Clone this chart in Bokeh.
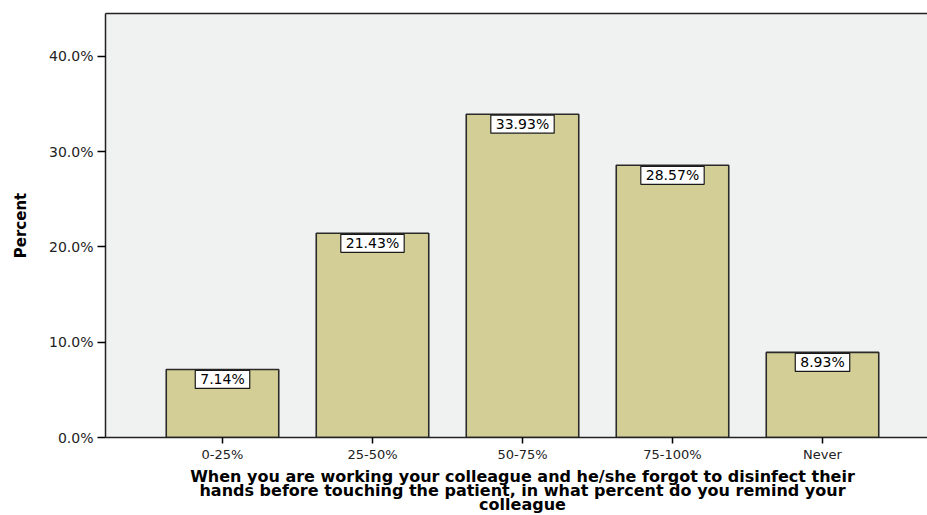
from bokeh.plotting import figure
from bokeh.layouts import column
from bokeh.models import ColumnDataSource, FixedTicker, LinearAxis, Range1d
from bokeh.core.properties import value
from bokeh.embed import file_html
from bokeh.resources import INLINE

# Response categories and share of respondents (%)
categories = ["0-25%", "25-50%", "50-75%", "75-100%", "Never"]
percents = [7.14, 21.43, 33.93, 28.57, 8.93]
y_ticks = [0, 10, 20, 30, 40]

x_title_lines = [
    "When you are working your colleague and he/she forgot to disinfect their",
    "hands before touching the patient, in what percent do you remind your",
    "colleague",
]

positions = list(range(len(categories)))
labels = [f"{v:.2f}%" for v in percents]

source = ColumnDataSource(data=dict(x=positions, top=percents, label=labels))

p = figure(width=927, height=464, output_backend="svg", toolbar_location=None,
           x_range=Range1d(-0.78, 4.70), y_range=Range1d(0, 44.5),
           min_border_left=105, min_border_right=0, min_border_top=13,
           min_border_bottom=27)

p.background_fill_color = "#f0f1f1"
p.border_fill_color = "white"
p.outline_line_color = None
p.grid.visible = False

p.vbar(x="x", top="top", width=0.75, bottom=0, source=source,
       fill_color="#d3ce96", line_color="#2a2a2a", line_width=1.6)

p.text(x="x", y="top", text="label", source=source,
       text_align="center", text_baseline="top", y_offset=1,
       text_font=value("DejaVu Sans"), text_font_size="14px", text_color="black",
       background_fill_color="white", border_line_color="#1a1a1a",
       border_line_width=1.2, padding=dict(left=5, right=5, top=1, bottom=1))

# y axis
yax = p.yaxis[0]
yax.ticker = FixedTicker(ticks=y_ticks)
yax.major_label_overrides = {t: f"{t:.1f}%" for t in y_ticks}
yax.axis_label = "Percent"
yax.axis_label_text_font = "DejaVu Sans"
yax.axis_label_text_font_style = "bold"
yax.axis_label_text_font_size = "15px"
yax.axis_label_text_color = "black"
yax.axis_label_standoff = 16
yax.major_label_text_font = "DejaVu Sans"
yax.major_label_text_font_size = "14px"
yax.major_label_text_color = "#222222"
yax.major_tick_out = 8
yax.major_tick_in = 0
yax.minor_tick_out = 0
yax.minor_tick_in = 0
yax.axis_line_color = "#222222"
yax.axis_line_width = 1.5
yax.major_tick_line_width = 1.5
yax.major_label_standoff = 4

# x axis
xax = p.xaxis[0]
xax.ticker = FixedTicker(ticks=positions)
xax.major_label_overrides = {i: c for i, c in enumerate(categories)}
xax.major_label_text_font = "DejaVu Sans"
xax.major_label_text_font_size = "13px"
xax.major_label_text_color = "#222222"
xax.major_tick_out = 6
xax.major_tick_in = 0
xax.minor_tick_out = 0
xax.minor_tick_in = 0
xax.axis_line_color = "#222222"
xax.axis_line_width = 1.5
xax.major_tick_line_width = 1.5
xax.major_label_standoff = 3

# top frame line
top_axis = LinearAxis(ticker=FixedTicker(ticks=[]), major_label_text_font_size="0px",
                      axis_line_color="#222222", axis_line_width=1.5,
                      major_tick_out=0, minor_tick_out=0)
p.add_layout(top_axis, "above")

# x axis title strip, sharing the category scale so it centres under the bars
t = figure(width=927, height=51, output_backend="svg", toolbar_location=None,
           x_range=p.x_range, y_range=Range1d(0, 51),
           min_border_left=105, min_border_right=0, min_border_top=0,
           min_border_bottom=0)
t.axis.visible = False
t.grid.visible = False
t.outline_line_color = None
t.background_fill_color = "white"
t.border_fill_color = "white"

centre = (positions[0] + positions[-1]) / 2
t.text(x=[centre] * 3, y=[39, 25, 11], text=x_title_lines,
       text_align="center", text_baseline="alphabetic",
       text_font=value("DejaVu Sans"), text_font_style="bold",
       text_font_size="16px", text_color="black")

open("out.html", "w").write(file_html(column(p, t, spacing=0), INLINE))
